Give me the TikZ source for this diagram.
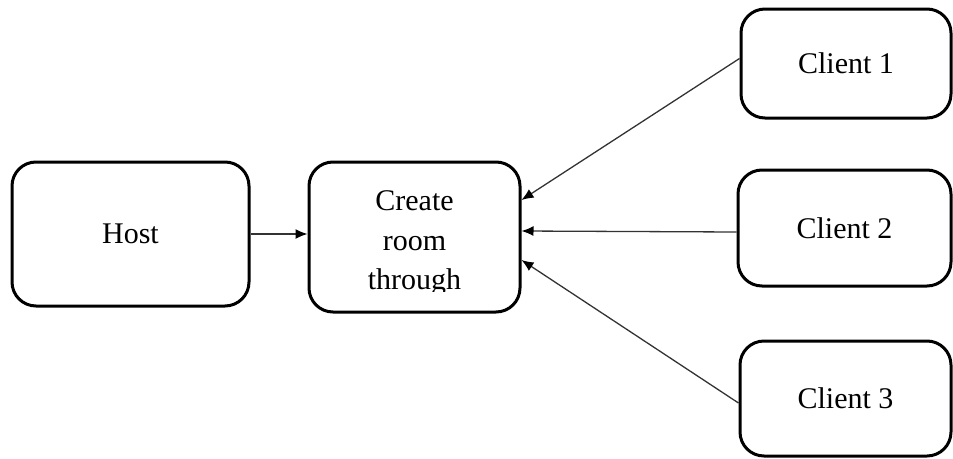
\documentclass[tikz,border=0pt]{standalone}
\usepackage{fontspec}
\setmainfont{Liberation Serif}
\usetikzlibrary{arrows.meta}
\begin{document}
\begin{tikzpicture}[x=1pt,y=-1pt,
  box/.style={draw=black, line width=3pt, rounded corners=24pt, fill=white,
    inner sep=0pt, font=\fontsize{30}{40}\selectfont},
  link/.style={draw=black!80, line width=1.3pt,
    -{Latex[length=12pt,width=10pt,color=black]}},
  lbl/.style={inner sep=0pt, anchor=base, font=\fontsize{30}{40}\selectfont}]
\useasboundingbox (0,0) rectangle (953,458);

% boxes
\node[box, minimum width=237pt, minimum height=144pt] (Host) at (130.5,234) {Host};
\node[box, minimum width=211pt, minimum height=150pt] (Create) at (414.5,237) {};
\node[box, minimum width=210pt, minimum height=109pt] (C1) at (846,63.5) {Client 1};
\node[box, minimum width=213pt, minimum height=116pt] (C2) at (844.5,228) {Client 2};
\node[box, minimum width=211pt, minimum height=115pt] (C3) at (845.5,398.5) {Client 3};

% text of the middle box, cut off at the bottom of its frame
\begin{scope}
  \clip (309,162) rectangle (520,291);
  \node[lbl] (t1) at (414.5,210) {Create};
  \node[lbl] (t2) at (414.5,250) {room};
  \node[lbl] (t3) at (414.5,289) {through};
\end{scope}

% connection points on the right side of the middle box
\coordinate (in1) at ([yshift=37pt]Create.east);
\coordinate (in2) at ([yshift=6pt]Create.east);
\coordinate (in3) at ([yshift=-23pt]Create.east);
\coordinate (out1) at ([yshift=5pt]C1.west);
\coordinate (out2) at ([yshift=-4pt]C2.west);
\coordinate (out3) at ([yshift=-4.5pt]C3.west);

% connectors
\draw[link] (Host.east) -- (Host.east -| Create.west);
\draw[link] (out1) -- (in1);
\draw[link] (out2) -- (in2);
\draw[link] (out3) -- (in3);
\end{tikzpicture}
\end{document}
